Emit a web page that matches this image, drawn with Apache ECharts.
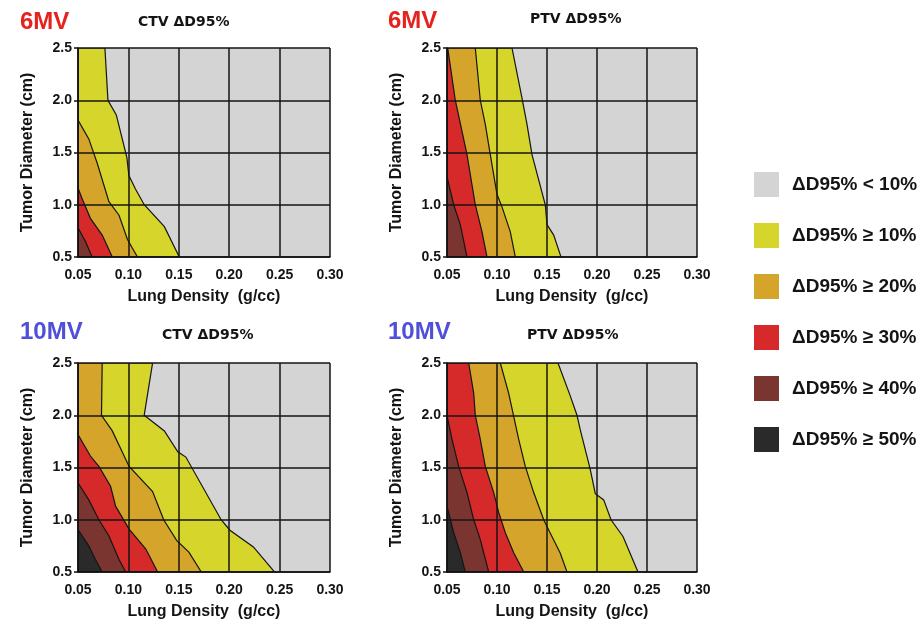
<!DOCTYPE html>
<html>
<head>
<meta charset="utf-8">
<script src="https://cdn.jsdelivr.net/npm/echarts@6/dist/echarts.min.js"></script>
<style>
  html, body { margin: 0; padding: 0; background: #fff; }
  #chart { width: 921px; height: 621px; }
</style>
</head>
<body>
<div id="chart"></div>
<script>
// ==================== 数据 ====================

// 面板标题
const energies = ['6MV', '6MV', '10MV', '10MV'];
const targets = ['CTV ΔD95%', 'PTV ΔD95%', 'CTV ΔD95%', 'PTV ΔD95%'];

// 图例（等级）
const levelNames = ['ΔD95% < 10%', 'ΔD95% ≥ 10%', 'ΔD95% ≥ 20%', 'ΔD95% ≥ 30%', 'ΔD95% ≥ 40%', 'ΔD95% ≥ 50%'];
const levelColors = ['#d4d4d4', '#d5d52b', '#d4a42b', '#d62a2a', '#7a3530', '#2a2a2a'];

// 等值线边界 [肺密度, 肿瘤直径]，从上到下
// 6MV CTV
const ctv6_10 = [[0.0767, 2.5], [0.0797, 2.0], [0.088, 1.86], [0.0985, 1.45], [0.1005, 1.28], [0.107, 1.15], [0.1157, 1.0], [0.1357, 0.79], [0.1505, 0.5]];
const ctv6_20 = [[0.05, 1.81], [0.0607, 1.63], [0.069, 1.4], [0.0807, 1.03], [0.0907, 0.9], [0.099, 0.67], [0.103, 0.6], [0.109, 0.5]];
const ctv6_30 = [[0.05, 1.16], [0.054, 1.06], [0.0623, 0.87], [0.074, 0.71], [0.084, 0.5]];
const ctv6_40 = [[0.05, 0.78], [0.0573, 0.65], [0.064, 0.5]];

// 6MV PTV
const ptv6_10 = [[0.115, 2.5], [0.125, 2.02], [0.13, 1.77], [0.135, 1.48], [0.1483, 1.0], [0.15, 0.81], [0.1567, 0.71], [0.164, 0.5]];
const ptv6_20 = [[0.0783, 2.5], [0.0833, 2.0], [0.0883, 1.77], [0.0933, 1.48], [0.1, 1.1], [0.105, 0.98], [0.1133, 0.74], [0.1183, 0.5]];
const ptv6_30 = [[0.0507, 2.5], [0.0583, 2.0], [0.07, 1.48], [0.0783, 1.0], [0.085, 0.74], [0.09, 0.5]];
const ptv6_40 = [[0.05, 1.27], [0.0567, 1.0], [0.0633, 0.81], [0.07, 0.5]];

// 10MV CTV
const ctv10_10 = [[0.124, 2.5], [0.119, 2.2], [0.1157, 2.0], [0.1357, 1.85], [0.149, 1.65], [0.157, 1.6], [0.192, 1.0], [0.2007, 0.9], [0.224, 0.74], [0.245, 0.5]];
const ctv10_20 = [[0.074, 2.5], [0.0733, 2.0], [0.084, 1.85], [0.1007, 1.51], [0.124, 1.27], [0.135, 1.0], [0.148, 0.8], [0.16, 0.69], [0.1723, 0.5]];
const ctv10_30 = [[0.05, 1.815], [0.0623, 1.61], [0.0707, 1.51], [0.0823, 1.32], [0.0873, 1.13], [0.1007, 0.91], [0.1173, 0.72], [0.129, 0.5]];
const ctv10_40 = [[0.05, 1.354], [0.0607, 1.19], [0.0707, 1.0], [0.0807, 0.844], [0.0907, 0.62], [0.0973, 0.5]];
const ctv10_50 = [[0.05, 0.907], [0.0607, 0.75], [0.0673, 0.62], [0.074, 0.5]];

// 10MV PTV
const ptv10_10 = [[0.161, 2.5], [0.1727, 2.2], [0.18, 2.0], [0.1833, 1.86], [0.1933, 1.48], [0.1983, 1.25], [0.2067, 1.19], [0.214, 1.0], [0.226, 0.84], [0.241, 0.5]];
const ptv10_20 = [[0.1033, 2.5], [0.1117, 2.21], [0.1167, 1.99], [0.1217, 1.77], [0.1283, 1.51], [0.1367, 1.26], [0.1467, 1.0], [0.1533, 0.87], [0.1633, 0.68], [0.17, 0.5]];
const ptv10_30 = [[0.0717, 2.5], [0.0767, 2.21], [0.0783, 2.0], [0.0833, 1.77], [0.0883, 1.51], [0.0967, 1.26], [0.1017, 1.07], [0.1083, 0.876], [0.1167, 0.685], [0.1267, 0.5]];
const ptv10_40 = [[0.05, 2.0], [0.055, 1.77], [0.0617, 1.51], [0.07, 1.26], [0.0767, 1.0], [0.0833, 0.81], [0.0917, 0.5]];
const ptv10_50 = [[0.05, 1.13], [0.0567, 0.876], [0.0633, 0.685], [0.0683, 0.5]];

// 每个面板的等级边界（10%, 20%, 30%, 40%, 50%）
const panels = [
  [ctv6_10, ctv6_20, ctv6_30, ctv6_40],
  [ptv6_10, ptv6_20, ptv6_30, ptv6_40],
  [ctv10_10, ctv10_20, ctv10_30, ctv10_40, ctv10_50],
  [ptv10_10, ptv10_20, ptv10_30, ptv10_40, ptv10_50]
];

// ==================== 布局 ====================

const X_MIN = 0.05, X_MAX = 0.30;
const Y_MIN = 0.5, Y_MAX = 2.5;
const FONT = '"Liberation Sans", Arial, sans-serif';
const FONT_WIDE = '"DejaVu Sans", sans-serif';
const TEXT = '#141414';

const grids = [
  { left: 78, top: 48, width: 252, height: 209 },
  { left: 447, top: 48, width: 250, height: 209 },
  { left: 78, top: 363, width: 252, height: 210 },
  { left: 447, top: 363, width: 250, height: 210 }
];

const energyPos = [[20, 10], [388, 9], [20, 320], [388, 320]];
const targetPos = [[138, 15], [530, 12], [162, 328], [527, 328]];

// ==================== 图表 ====================

function levelSeries(gi, boundary, li) {
  const color = levelColors[li];
  return {
    type: 'custom',
    name: levelNames[li],
    xAxisIndex: gi,
    yAxisIndex: gi,
    z: 2,
    clip: true,
    silent: true,
    itemStyle: { color: color },
    data: boundary,
    renderItem: function (params, api) {
      if (params.dataIndex !== 0) return null;
      // 区域：边界 + 左下角 + 左边起点
      const pts = boundary
        .concat([[X_MIN, Y_MIN], [X_MIN, boundary[0][1]]])
        .map(p => api.coord(p));
      return {
        type: 'polygon',
        shape: { points: pts },
        style: { fill: color, stroke: '#151515', lineWidth: 1.2 }
      };
    }
  };
}

const xAxes = [], yAxes = [], series = [], titles = [];

grids.forEach((g, gi) => {
  xAxes.push({
    type: 'value', gridIndex: gi, min: X_MIN, max: X_MAX, interval: 0.05, z: 4,
    name: 'Lung Density  (g/cc)', nameLocation: 'middle', nameGap: 32,
    nameTextStyle: { fontFamily: FONT, fontWeight: 'bold', fontSize: 16, color: TEXT },
    axisLine: { lineStyle: { color: '#111', width: 1.5 } },
    axisTick: { show: false },
    axisLabel: { margin: 11, fontFamily: FONT, fontWeight: 'bold', fontSize: 14, color: TEXT,
      formatter: v => v.toFixed(2), showMinLabel: true, showMaxLabel: true },
    splitLine: { show: true, lineStyle: { color: '#151515', width: 1.5 } }
  });
  yAxes.push({
    type: 'value', gridIndex: gi, min: Y_MIN, max: Y_MAX, interval: 0.5, z: 4,
    name: 'Tumor Diameter (cm)', nameLocation: 'middle', nameGap: 42,
    nameTextStyle: { fontFamily: FONT, fontWeight: 'bold', fontSize: 16, color: TEXT },
    axisLine: { lineStyle: { color: '#111', width: 1.5 } },
    axisTick: { show: true, length: 4, lineStyle: { color: '#111', width: 1.5 } },
    axisLabel: { margin: 6, fontFamily: FONT, fontWeight: 'bold', fontSize: 14, color: TEXT,
      formatter: v => v.toFixed(1), showMinLabel: true, showMaxLabel: true },
    splitLine: { show: true, lineStyle: { color: '#151515', width: 1.5 } }
  });

  panels[gi].forEach((b, k) => series.push(levelSeries(gi, b, k + 1)));

  titles.push({
    text: energies[gi], left: energyPos[gi][0], top: energyPos[gi][1], padding: 0,
    textStyle: { fontFamily: FONT, fontWeight: 'bold', fontSize: 24,
      color: energies[gi] === '6MV' ? '#e6221e' : '#4f4fd8' }
  });
  titles.push({
    text: targets[gi], left: targetPos[gi][0], top: targetPos[gi][1], padding: 0,
    textStyle: { fontFamily: FONT_WIDE, fontWeight: 'bold', fontSize: 14, color: TEXT }
  });
});

// 灰色（< 10%）只用于图例
series.unshift({
  type: 'custom', name: levelNames[0], xAxisIndex: 0, yAxisIndex: 0,
  itemStyle: { color: levelColors[0] }, data: [], renderItem: () => null
});

const chart = echarts.init(document.getElementById('chart'), null, { renderer: 'canvas' });
chart.setOption({
  backgroundColor: '#fff',
  animation: false,
  title: titles,
  grid: grids.map(g => Object.assign({ show: true, backgroundColor: levelColors[0], borderWidth: 0 }, g)),
  xAxis: xAxes,
  yAxis: yAxes,
  legend: {
    data: levelNames,
    orient: 'vertical',
    left: 754, top: 172,
    padding: 0,
    icon: 'rect',
    itemWidth: 25, itemHeight: 25, itemGap: 26,
    selectedMode: false,
    textStyle: { fontFamily: FONT, fontWeight: 'bold', fontSize: 19, color: TEXT, padding: [0, 0, 0, 8] }
  },
  series: series
});
</script>
</body>
</html>
